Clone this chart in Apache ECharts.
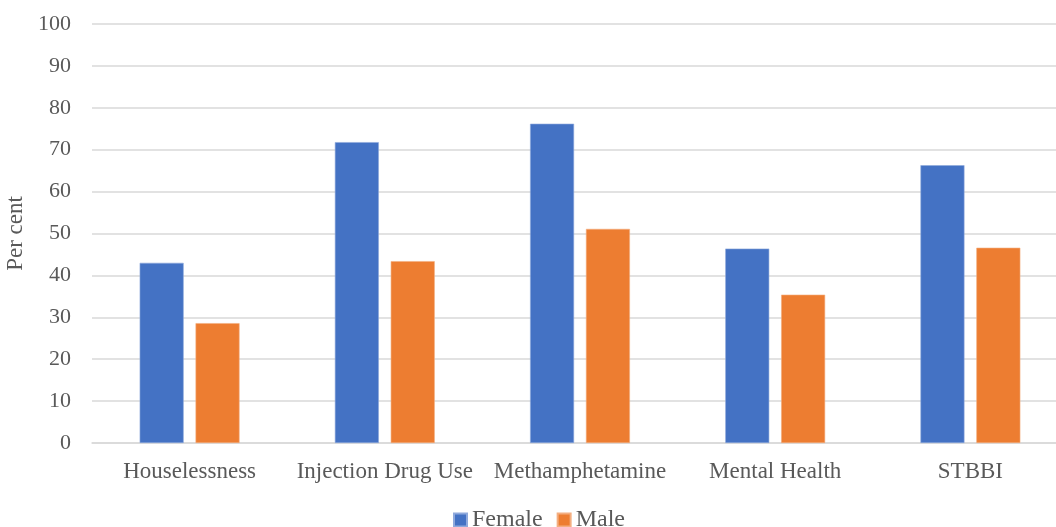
<!DOCTYPE html>
<html>
<head>
<meta charset="utf-8">
<script src="https://cdn.jsdelivr.net/npm/echarts@6/dist/echarts.min.js"></script>
<style>
  html, body { margin: 0; padding: 0; background: #fff; }
  #chart { width: 1056px; height: 527px; }
</style>
</head>
<body>
<div id="chart"></div>
<script>
// Share of people reporting each factor, by sex (per cent)
const categories = ['Houselessness', 'Injection Drug Use', 'Methamphetamine', 'Mental Health', 'STBBI'];
const female = [43.0, 71.8, 76.2, 46.4, 66.3];
const male = [28.6, 43.4, 51.1, 35.4, 46.6];
const yTicks = { min: 0, max: 100, interval: 10 };

const textColor = '#595959';
const font = '"Liberation Serif", "Times New Roman", serif';

const chart = echarts.init(document.getElementById('chart'));
chart.setOption({
  animation: false,
  textStyle: { fontFamily: font, color: textColor },
  // the plot runs slightly past the right edge of the canvas
  grid: { left: 92, right: -12, top: 24, bottom: 84, containLabel: false, outerBoundsMode: 'none' },
  legend: {
    top: 503,
    left: 448,
    itemWidth: 13,
    itemHeight: 13,
    itemGap: 14,
    icon: 'rect',
    textStyle: { fontFamily: font, fontSize: 24, color: textColor },
    data: ['Female', 'Male']
  },
  xAxis: {
    type: 'category',
    data: categories,
    axisLine: { lineStyle: { color: '#D9D9D9', width: 1.5 } },
    axisTick: { show: false },
    axisLabel: { fontFamily: font, fontSize: 23, color: textColor, margin: 17, interval: 0 }
  },
  yAxis: {
    type: 'value',
    min: yTicks.min,
    max: yTicks.max,
    interval: yTicks.interval,
    name: 'Per cent',
    nameLocation: 'middle',
    nameGap: 57,
    nameRotate: 90,
    nameTextStyle: { fontFamily: font, fontSize: 23, color: textColor },
    axisLine: { show: false },
    axisTick: { show: false },
    axisLabel: { fontFamily: font, fontSize: 22, color: textColor, margin: 21 },
    splitLine: { lineStyle: { color: '#D9D9D9', width: 1.5 } }
  },
  series: [
    {
      name: 'Female',
      type: 'bar',
      data: female,
      barWidth: 44,
      barGap: '27%',
      itemStyle: { color: '#4472C4', borderColor: '#8FA9DC', borderWidth: 0.6 }
    },
    {
      name: 'Male',
      type: 'bar',
      data: male,
      barWidth: 44,
      itemStyle: { color: '#ED7D31', borderColor: '#F4AE80', borderWidth: 0.6 }
    }
  ]
});
</script>
</body>
</html>
